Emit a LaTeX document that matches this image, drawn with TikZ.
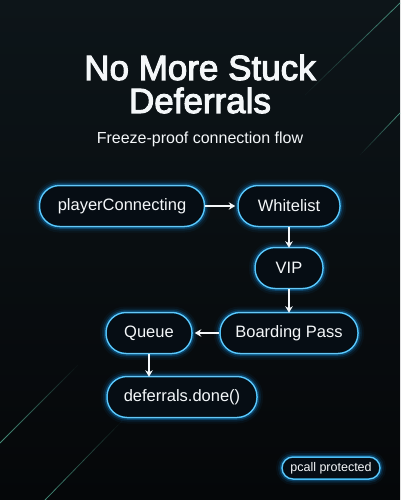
\documentclass[tikz,border=0pt]{standalone}
\usepackage{fontspec}
\setmainfont{Liberation Sans}
\newfontfamily\titlefont{Liberation Sans}[FakeBold=3]
\usetikzlibrary{arrows.meta,calc}
\definecolor{bgtop}{HTML}{0D1519}
\definecolor{bgmid}{HTML}{080B0E}
\definecolor{bgbot}{HTML}{050709}
\definecolor{edge}{HTML}{35B6F2}
\definecolor{edgehi}{HTML}{9EDCFF}
\definecolor{glow}{HTML}{168FE0}
\definecolor{boxfill}{HTML}{060D14}
\definecolor{tealline}{HTML}{5EC2A6}
\definecolor{txt}{HTML}{F4F7F9}
\newcommand\fadeline[2]{%
  \foreach \i [evaluate=\i as \op using 0.7*(1-\i/20)] in {0,...,19}{%
    \draw[tealline, line width=0.75pt, draw opacity=\op]
      ($(#1)!\i/20!(#2)$) -- ($(#1)!{(\i+1)/20}!(#2)$);}}
\begin{document}
\begin{tikzpicture}[x=1pt,y=-1pt,
  glowbox/.style={draw=edge, line width=1.5pt, fill=boxfill, text=txt,
    preaction={draw=glow, line width=12pt, draw opacity=0.06},
    preaction={draw=glow, line width=8pt, draw opacity=0.12},
    preaction={draw=glow, line width=4.5pt, draw opacity=0.3},
    postaction={draw=edgehi, line width=0.5pt, draw opacity=0.7}},
  pill/.style={glowbox, rounded corners=20pt, minimum height=41pt,
    inner sep=0pt, font=\fontsize{16.5}{18}\selectfont},
  smallpill/.style={glowbox, rounded corners=11pt, minimum height=22pt,
    inner sep=0pt, font=\fontsize{12.5}{14}\selectfont},
  arr/.style={-{Stealth[length=6.5pt,width=7.5pt]}, line width=1.3pt, draw=txt}]
\useasboundingbox (0,0) rectangle (400,500);
\shade[top color=bgtop, middle color=bgmid, bottom color=bgbot] (0,0) rectangle (400,500);
% decorative lines
\fadeline{400,3}{305,95}
\fadeline{400,113}{360,155}
\fadeline{0,443}{78,365}
\fadeline{45,500}{122,421}
% title
\node[anchor=base, text=txt, font=\titlefont\fontsize{35}{35}\selectfont] (t1) at (200,80) {No More Stuck};
\node[anchor=base, text=txt, font=\titlefont\fontsize{35}{35}\selectfont] (t2) at (200,113) {Deferrals};
\node[anchor=base, text=txt, font=\fontsize{16}{18}\selectfont] (sub) at (200,143) {Freeze-proof connection flow};
% nodes
\node[pill, minimum width=165pt] (pc) at (122,206) {playerConnecting};
\node[pill, minimum width=102pt] (wl) at (289,206) {Whitelist};
\node[pill, minimum width=68pt] (vip) at (289,268) {VIP};
\node[pill, minimum width=138pt] (bp) at (289,333) {Boarding Pass};
\node[pill, minimum width=86pt] (q) at (149,333) {Queue};
\node[pill, minimum width=150pt] (dd) at (182,397) {deferrals.done()};
\node[smallpill, minimum width=98pt] (pp) at (331,468) {pcall protected};
% connectors
\draw[arr] (pc.east) -- ([xshift=-2pt]wl.west);
\draw[arr] (wl.south) -- ([yshift=-1pt]vip.north);
\draw[arr] (vip.south) -- ([yshift=-1pt]bp.north);
\draw[arr] (bp.west) -- ([xshift=2pt]q.east);
\draw[arr] (q.south) -- ([yshift=-1pt]q.south |- dd.north);
\end{tikzpicture}
\end{document}
